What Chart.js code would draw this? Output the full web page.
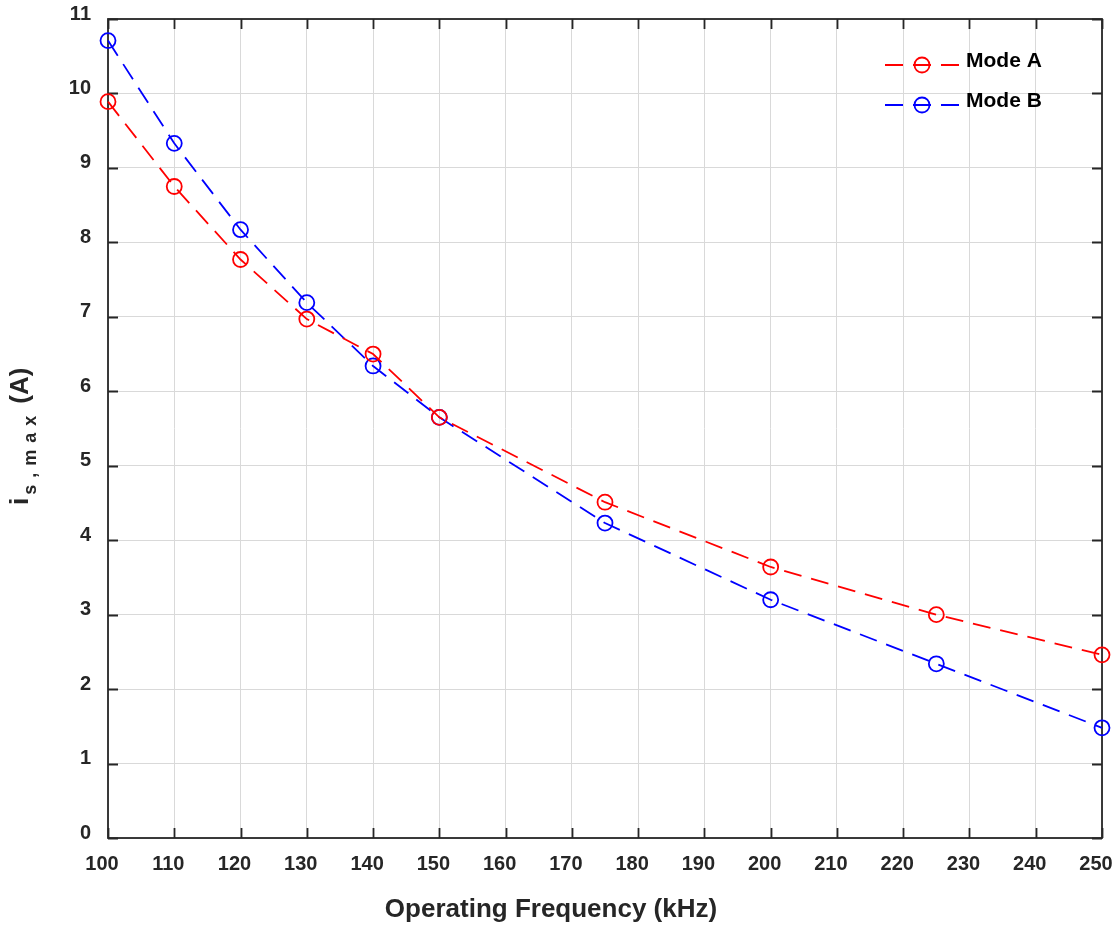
<!DOCTYPE html>
<html>
<head>
<meta charset="utf-8">
<script src="https://cdn.jsdelivr.net/npm/chart.js@4.4.0/dist/chart.umd.min.js"></script>
<style>
  html, body { margin: 0; padding: 0; background: #fff; }
  #cadre { width: 1116px; height: 927px; }
</style>
</head>
<body>
<div id="cadre"><canvas id="graphique" width="1116" height="927"></canvas></div>
<script>
// Données
var frequences = [100, 110, 120, 130, 140, 150, 175, 200, 225, 250];
var courantModeA = [9.89, 8.75, 7.77, 6.97, 6.50, 5.65, 4.51, 3.64, 3.00, 2.46];
var courantModeB = [10.71, 9.33, 8.17, 7.19, 6.34, 5.65, 4.23, 3.20, 2.34, 1.48];
var nomsSeries = ["Mode A", "Mode B"];
var ticksX = [100, 110, 120, 130, 140, 150, 160, 170, 180, 190, 200, 210, 220, 230, 240, 250];
var ticksY = [0, 1, 2, 3, 4, 5, 6, 7, 8, 9, 10, 11];

var police = "'Liberation Sans', Arial, sans-serif";
var grisAxe = "#262626";

function points(valeurs) {
  var res = [];
  for (var i = 0; i < frequences.length; i++) {
    res.push({ x: frequences[i], y: valeurs[i] });
  }
  return res;
}

function serie(label, valeurs, couleur) {
  return {
    label: label,
    data: points(valeurs),
    borderColor: couleur,
    borderWidth: 1.8,
    borderDash: [18, 10],
    pointStyle: "circle",
    pointRadius: 7.5,
    pointHoverRadius: 7.5,
    pointBorderWidth: 1.8,
    pointBorderColor: couleur,
    pointBackgroundColor: "rgba(0,0,0,0)",
    tension: 0,
    fill: false,
    clip: false
  };
}

// Boîte, graduations intérieures, titres et légende
var habillage = {
  id: "habillage",
  beforeDatasetsDraw: function(chart) {
    var ctx = chart.ctx, a = chart.chartArea;
    var sx = chart.scales.x, sy = chart.scales.y;
    ctx.save();
    ctx.strokeStyle = grisAxe;
    ctx.lineWidth = 1.8;
    ctx.strokeRect(a.left, a.top, a.right - a.left, a.bottom - a.top);
    ctx.beginPath();
    ticksX.forEach(function(v) {
      var px = Math.round(sx.getPixelForValue(v)) + 0.5;
      ctx.moveTo(px, a.bottom); ctx.lineTo(px, a.bottom - 10);
      ctx.moveTo(px, a.top); ctx.lineTo(px, a.top + 10);
    });
    ticksY.forEach(function(v) {
      var py = Math.round(sy.getPixelForValue(v)) + 0.5;
      ctx.moveTo(a.left, py); ctx.lineTo(a.left + 10, py);
      ctx.moveTo(a.right, py); ctx.lineTo(a.right - 10, py);
    });
    ctx.stroke();
    ctx.restore();
  },
  afterDraw: function(chart) {
    var ctx = chart.ctx;
    ctx.save();

    // titre de l'axe x
    ctx.fillStyle = grisAxe;
    ctx.font = "bold 26px " + police;
    ctx.textAlign = "center";
    ctx.textBaseline = "alphabetic";
    ctx.fillText("Operating Frequency (kHz)", 551, 917);

    // titre de l'axe y : i_{s,max} (A)
    ctx.translate(28, 505);
    ctx.rotate(-Math.PI / 2);
    ctx.textAlign = "left";
    var x = 0;
    ctx.font = "bold 26px " + police;
    ctx.fillText("i", x, 0);
    x += ctx.measureText("i").width + 3;
    ctx.font = "bold 18px " + police;
    var sub = ["s", ",", "m", "a", "x"];
    sub.forEach(function(c) {
      ctx.fillText(c, x, 8);
      x += ctx.measureText(c).width + 7;
    });
    ctx.font = "bold 26px " + police;
    x += 5;
    ctx.fillText("(A)", x, 0);
    ctx.restore();

    // légende
    ctx.save();
    var lignes = [65, 105];
    chart.data.datasets.forEach(function(ds, i) {
      var y = lignes[i];
      ctx.strokeStyle = ds.borderColor;
      ctx.lineWidth = 1.8;
      ctx.setLineDash([18, 10]);
      ctx.beginPath();
      ctx.moveTo(885, y); ctx.lineTo(959, y);
      ctx.stroke();
      ctx.setLineDash([]);
      ctx.beginPath();
      ctx.arc(922, y, 7.5, 0, Math.PI * 2);
      ctx.stroke();
      ctx.fillStyle = "#000";
      ctx.font = "bold 21px " + police;
      ctx.textAlign = "left";
      ctx.textBaseline = "alphabetic";
      ctx.fillText(ds.label, 966, y + 2);
    });
    ctx.restore();
  }
};

var ctx = document.getElementById("graphique").getContext("2d");
var chart = new Chart(ctx, {
  type: "line",
  data: {
    datasets: [
      serie(nomsSeries[0], courantModeA, "#ff0000"),
      serie(nomsSeries[1], courantModeB, "#0000ff")
    ]
  },
  options: {
    responsive: false,
    animation: false,
    devicePixelRatio: 1,
    layout: {
      autoPadding: false,
      padding: { left: 0, top: 19, right: 14, bottom: 0 }
    },
    plugins: {
      legend: { display: false },
      tooltip: { enabled: false }
    },
    scales: {
      x: {
        type: "linear",
        min: 100,
        max: 250,
        afterBuildTicks: function(scale) {
          scale.ticks = ticksX.map(function(v) { return { value: v }; });
        },
        afterFit: function(scale) {
          scale.height = 89;
          scale.paddingLeft = 0; scale.paddingRight = 0;
          scale.paddingTop = 0; scale.paddingBottom = 0;
        },
        grid: { color: "#d9d9d9", lineWidth: 1, drawTicks: false },
        border: { display: false },
        ticks: {
          padding: 14,
          labelOffset: -6,
          maxRotation: 0,
          autoSkip: false,
          color: grisAxe,
          font: { family: police, size: 20, weight: "bold" }
        }
      },
      y: {
        type: "linear",
        min: 0,
        max: 11,
        afterBuildTicks: function(scale) {
          scale.ticks = ticksY.map(function(v) { return { value: v }; });
        },
        afterFit: function(scale) {
          scale.width = 108;
          scale.paddingLeft = 0; scale.paddingRight = 0;
          scale.paddingTop = 0; scale.paddingBottom = 0;
        },
        grid: { color: "#d9d9d9", lineWidth: 1, drawTicks: false },
        border: { display: false },
        ticks: {
          padding: 17,
          labelOffset: -5,
          autoSkip: false,
          color: grisAxe,
          font: { family: police, size: 20, weight: "bold" }
        }
      }
    }
  },
  plugins: [habillage]
});
</script>
</body>
</html>
